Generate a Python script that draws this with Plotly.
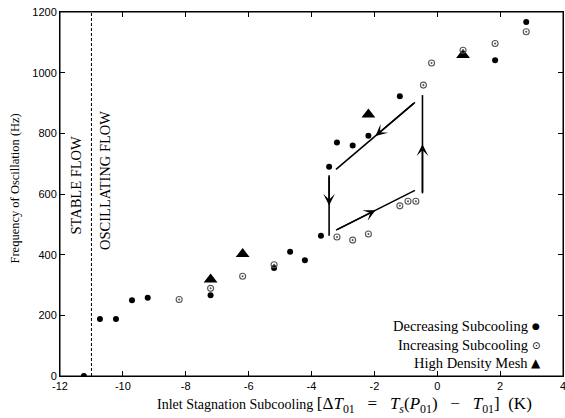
import plotly.graph_objects as go

# Decreasing subcooling (filled circles)
dec_x = [-11.24, -10.73, -10.22, -9.71, -9.21, -7.21, -5.19, -4.68, -4.21, -3.70,
         -3.44, -3.19, -2.69, -2.19, -1.19, 1.84, 2.83]
dec_y = [0, 188, 188, 250, 258, 266, 356, 410, 382, 462,
         690, 770, 760, 792, 922, 1041, 1167]

# Increasing subcooling (open circles)
inc_x = [-8.21, -7.21, -6.19, -5.19, -3.19, -2.69, -2.19, -1.19, -0.93, -0.68,
         -0.44, -0.18, 0.82, 1.84, 2.83]
inc_y = [252, 289, 329, 367, 458, 448, 468, 561, 576, 576,
         959, 1032, 1074, 1096, 1135]

# High density mesh (triangles)
mesh_x = [-7.21, -6.19, -2.19, 0.82]
mesh_y = [318, 402, 862, 1058]

# Hysteresis arrows: start and end points (head drawn at midpoint)
arrow_x0 = [-0.71, -3.44, -3.22, -0.47]
arrow_y0 = [902, 662, 481, 602]
arrow_x1 = [-3.22, -3.44, -0.71, -0.47]
arrow_y1 = [681, 462, 612, 926]

stability_x = -11.0
x_ticks = [-12, -10, -8, -6, -4, -2, 0, 2, 4]
y_ticks = [0, 200, 400, 600, 800, 1000, 1200]

legend_labels = ["Decreasing Subcooling", "Increasing Subcooling", "High Density Mesh"]
legend_symbols = ["●", "⊙", "▲"]
legend_symbol_sizes = [9, 10, 12]

serif = "Liberation Serif"
sans = "Liberation Sans"

fig = go.Figure()

fig.add_trace(go.Scatter(x=mesh_x, y=mesh_y, mode="markers",
                         marker=dict(symbol="triangle-up", size=12, color="black"),
                         showlegend=False))
fig.add_trace(go.Scatter(x=dec_x, y=dec_y, mode="markers",
                         marker=dict(symbol="circle", size=6, color="black"),
                         showlegend=False))
fig.add_trace(go.Scatter(x=inc_x, y=inc_y, mode="markers",
                         marker=dict(symbol="circle-open-dot", size=6, color="#555",
                                     line=dict(width=1.1, color="#555")),
                         showlegend=False))

# Plot frame
fig.add_shape(type="rect", x0=0, x1=1, y0=0, y1=1, xref="paper", yref="paper",
              line=dict(color="black", width=1), layer="above")

# Stability boundary
fig.add_shape(type="line", x0=stability_x, x1=stability_x, y0=0, y1=1200,
              xref="x", yref="y", line=dict(color="black", width=1, dash="3px,2px"))

# Arrows
for x0, y0, x1, y1 in zip(arrow_x0, arrow_y0, arrow_x1, arrow_y1):
    fig.add_shape(type="line", x0=x0, y0=y0, x1=x1, y1=y1, xref="x", yref="y",
                  line=dict(color="black", width=1.6))
    mx = (x0 + x1) / 2
    my = (y0 + y1) / 2
    fig.add_annotation(x=mx, y=my, ax=x0, ay=y0, xref="x", yref="y",
                       axref="x", ayref="y", text="", showarrow=True,
                       arrowhead=3, arrowsize=1.3,
                       arrowwidth=1.5, arrowcolor="black")

# Region labels
fig.add_annotation(x=-11.52, y=628, xref="x", yref="y", text="STABLE FLOW",
                   textangle=-90, showarrow=False, xanchor="center", yanchor="middle",
                   font=dict(family=serif, size=14.5, color="black"))
fig.add_annotation(x=-10.55, y=645, xref="x", yref="y", text="OSCILLATING FLOW",
                   textangle=-90, showarrow=False, xanchor="center", yanchor="middle",
                   font=dict(family=serif, size=14.5, color="black"))

# Legend (text with symbol at right)
legend_rows_y = [0.138, 0.084, 0.036]
for lab, sym, ssz, ry in zip(legend_labels, legend_symbols, legend_symbol_sizes, legend_rows_y):
    fig.add_annotation(x=0.935, y=ry, xref="paper", yref="paper",
                       text=lab, showarrow=False, xanchor="right", yanchor="middle",
                       font=dict(family=serif, size=14.5, color="black"))
    fig.add_annotation(x=0.946, y=ry, xref="paper", yref="paper",
                       text=sym, showarrow=False, xanchor="center", yanchor="middle",
                       font=dict(family="DejaVu Sans", size=ssz, color="black"))

# Axis titles
x_title = ("Inlet Stagnation Subcooling <span style='font-size:17px'>[Δ<i>T</i><sub>01</sub>&nbsp;&nbsp;&nbsp;=&nbsp;&nbsp;&nbsp;"
           "<i>T<sub>s</sub></i>(<i>P</i><sub>01</sub>)&nbsp;&nbsp;&nbsp;−&nbsp;&nbsp;&nbsp;<i>T</i><sub>01</sub>]&nbsp;&nbsp;(K)</span>")
fig.add_annotation(x=0.189, y=-0.080, xref="paper", yref="paper", text=x_title,
                   showarrow=False, xanchor="left", yanchor="middle",
                   font=dict(family=serif, size=14, color="black"))
fig.add_annotation(x=-0.0895, y=0.515, xref="paper", yref="paper",
                   text="Frequency of Oscillation (Hz)", textangle=-90,
                   showarrow=False, xanchor="center", yanchor="middle",
                   font=dict(family=serif, size=12.5, color="black"))

axis_common = dict(showline=True, linecolor="black", linewidth=1, mirror="ticks",
                   ticks="inside", ticklen=5, tickcolor="black", showgrid=False,
                   zeroline=False, automargin=False, ticklabeloverflow="allow",
                   tickfont=dict(family=sans, size=11, color="black"))

fig.update_xaxes(range=[-12, 4], tickvals=x_ticks, ticktext=[str(v) for v in x_ticks],
                 **axis_common)
fig.update_yaxes(range=[0, 1200], tickvals=y_ticks, ticktext=[str(v) for v in y_ticks],
                 **axis_common)

fig.update_layout(width=565, height=418, margin=dict(l=60, r=2, t=12, b=42),
                  plot_bgcolor="white", paper_bgcolor="white", showlegend=False)

# remove the browser's default body margin so the figure sits at the window origin
fig.write_html("out.html", config={"displayModeBar": False},
               post_script="document.body.style.margin='0';")
